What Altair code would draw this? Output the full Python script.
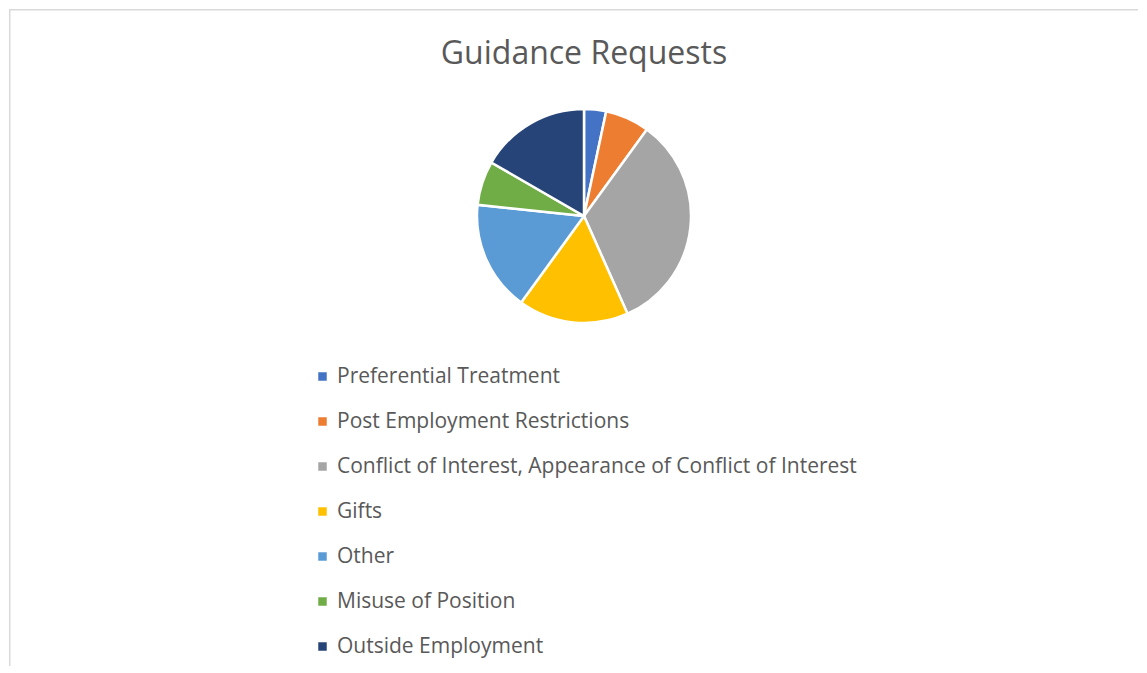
import altair as alt
import pandas as pd

categories = [
    "Preferential Treatment",
    "Post Employment Restrictions",
    "Conflict of Interest, Appearance of Conflict of Interest",
    "Gifts",
    "Other",
    "Misuse of Position",
    "Outside Employment",
]
counts = [1, 2, 10, 5, 5, 2, 5]
colors = ["#4472C4", "#ED7D31", "#A5A5A5", "#FFC000", "#5B9BD5", "#70AD47", "#264478"]
title_text = "Guidance Requests"

df = pd.DataFrame({"category": categories, "count": counts, "idx": list(range(len(categories)))})

W, H = 1129, 657
FONT = "Open Sans"
TXT = "#595959"

pie = alt.Chart(df).mark_arc(radius=107, stroke="white", strokeWidth=2.5).encode(
    theta=alt.Theta("count:Q", stack=True),
    order=alt.Order("idx:Q"),
    color=alt.Color(
        "category:N",
        scale=alt.Scale(domain=categories, range=colors),
        legend=alt.Legend(
            title=None,
            orient="none",
            legendX=303,
            legendY=357,
            direction="vertical",
            symbolType="square",
            symbolSize=72,
            symbolStrokeWidth=0,
            labelFontSize=21,
            labelFont=FONT,
            labelColor=TXT,
            rowPadding=23,
            labelOffset=4,
            labelLimit=800,
        ),
    ),
    x=alt.value(575),
    y=alt.value(207),
)

title = alt.Chart(pd.DataFrame({"t": [title_text]})).mark_text(
    fontSize=32, font=FONT, color=TXT, align="center", baseline="alphabetic"
).encode(text="t:N", x=alt.value(575), y=alt.value(55))

border_df = pd.DataFrame({"a": [0]})
top_rule = alt.Chart(border_df).mark_rule(color="#d9d9d9", strokeWidth=1.5).encode(
    x=alt.value(0), x2=alt.value(W), y=alt.value(0.75)
)
left_rule = alt.Chart(border_df).mark_rule(color="#d9d9d9", strokeWidth=1.5).encode(
    x=alt.value(0.75), y=alt.value(0), y2=alt.value(H)
)

chart = alt.layer(top_rule, left_rule, pie, title).properties(
    width=W, height=H, padding=0
).configure(background="white", view=alt.ViewConfig(strokeWidth=0, stroke="transparent"))

chart.save("out.html", embed_options={"renderer": "svg", "actions": False})
